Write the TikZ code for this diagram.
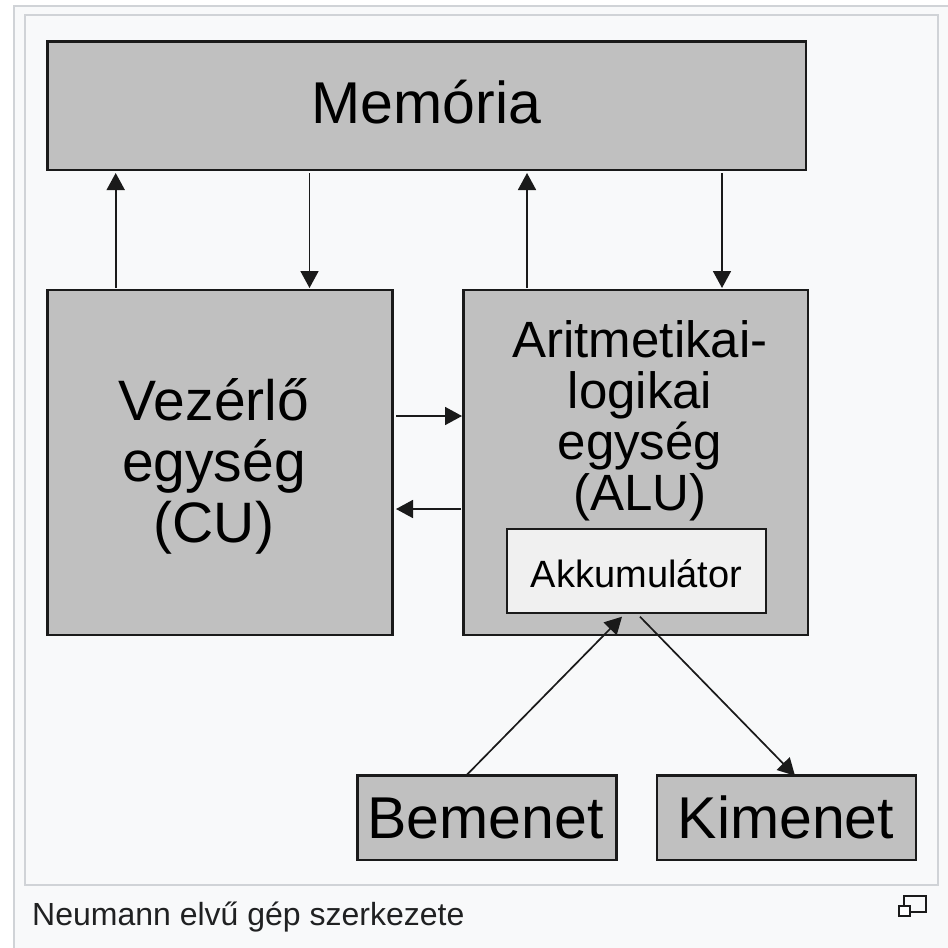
\documentclass[tikz,border=0pt]{standalone}
\usepackage{fontspec}
\setmainfont{Liberation Sans}
\usetikzlibrary{arrows.meta,calc}
\definecolor{pagebg}{HTML}{F8F9FA}
\definecolor{framec}{HTML}{D0D3D7}
\definecolor{boxfill}{HTML}{C0C0C0}
\definecolor{accfill}{HTML}{F0F0F0}
\definecolor{ink}{HTML}{1A1A1A}
\definecolor{captc}{HTML}{202122}
\tikzset{
  unitbox/.style={draw=ink, line width=2.8pt, fill=boxfill, rectangle, inner sep=0pt, outer sep=0pt},
  accbox/.style={draw=ink, line width=2.5pt, fill=accfill, rectangle, inner sep=0pt, outer sep=0pt},
  lbl/.style={inner sep=0pt, outer sep=0pt, text=black, align=center},
  arr/.style={draw=ink, line width=1.7pt, -{Triangle[length=17pt,width=18pt]}},
}
\begin{document}
\begin{tikzpicture}[x=1pt,y=-1pt]
\useasboundingbox (0,0) rectangle (948,948);
\fill[white] (0,0) rectangle (948,948);
% frames
\draw[framec, fill=pagebg, line width=2pt] (14,6) rectangle (949,960);
\draw[framec, fill=pagebg, line width=2pt] (25,15) rectangle (938,885);

% boxes
\node[unitbox, minimum width=758.5pt, minimum height=128.3pt] (mem) at (426.75,105.85) {};
\node[unitbox, minimum width=345pt, minimum height=345pt] (cu) at (220,462.5) {};
\node[unitbox, minimum width=344.5pt, minimum height=345pt] (alu) at (635.75,462.5) {};
\node[accbox, minimum width=259pt, minimum height=84pt] (akk) at (636.5,571) {};
\node[unitbox, minimum width=259.4pt, minimum height=84.3pt] (bem) at (487,817.85) {};
\node[unitbox, minimum width=259pt, minimum height=84.3pt] (kim) at (786.5,817.85) {};

% labels
\node[lbl, anchor=base, font=\fontsize{59}{59}\selectfont] (memtext) at (426.5,123.3) {Memória};
\node[lbl, anchor=north, font=\fontsize{57}{61}\selectfont] (cutext) at (214,379) {Vezérlő\\egység\\(CU)};
\node[lbl, anchor=north, font=\fontsize{51}{51}\selectfont] (alutext) at (640,320.5) {Aritmetikai-\\logikai\\egység\\(ALU)};
\node[lbl, anchor=base, font=\fontsize{38}{38}\selectfont] (akktext) at (636.5,587) {Akkumulátor};
\node[lbl, anchor=base, font=\fontsize{59}{59}\selectfont] (bemtext) at (485.5,838.3) {Bemenet};
\node[lbl, anchor=base, font=\fontsize{59}{59}\selectfont] (kimtext) at (786,838.3) {Kimenet};

% x positions of connectors
\coordinate (x1) at (115.7,0);
\coordinate (x2) at (309.5,0);
\coordinate (x3) at (527,0);
\coordinate (x4) at (722,0);
\coordinate (yr) at (0,416);
\coordinate (yl) at (0,509);
\coordinate (xa) at (466,0);
\coordinate (xb) at (622,0);
\coordinate (xc) at (640,0);
\coordinate (xd) at (795,0);

% vertical connectors
\draw[arr, shorten <=2pt, shorten >=3pt] (cu.north -| x1) -- (mem.south -| x1);
\draw[arr, shorten <=3pt, shorten >=2pt] (mem.south -| x2) -- (cu.north -| x2);
\draw[arr, shorten <=2pt, shorten >=3pt] (alu.north -| x3) -- (mem.south -| x3);
\draw[arr, shorten <=3pt, shorten >=2pt] (mem.south -| x4) -- (alu.north -| x4);

% horizontal connectors
\draw[arr, shorten <=3.5pt, shorten >=1.5pt] (cu.east |- yr) -- (alu.west |- yr);
\draw[arr, shorten <=2.5pt, shorten >=3.5pt] (alu.west |- yl) -- (cu.east |- yl);

% diagonal connectors
\draw[arr] (bem.north -| xa) -- ($(akk.south -| xb)+(0,3.7)$);
\draw[arr] ($(akk.south -| xc)+(0,3.7)$) -- (kim.north -| xd);

% caption
\node[anchor=base west, inner sep=0pt, text=captc, font=\fontsize{32}{32}\selectfont] (caption) at (32,925) {Neumann elvű gép szerkezete};
% enlarge icon
\draw[ink, line width=1.6pt] (904,896) rectangle (926,912);
\draw[ink, fill=white, line width=1.6pt] (899,906) rectangle (910,916);
\end{tikzpicture}
\end{document}
